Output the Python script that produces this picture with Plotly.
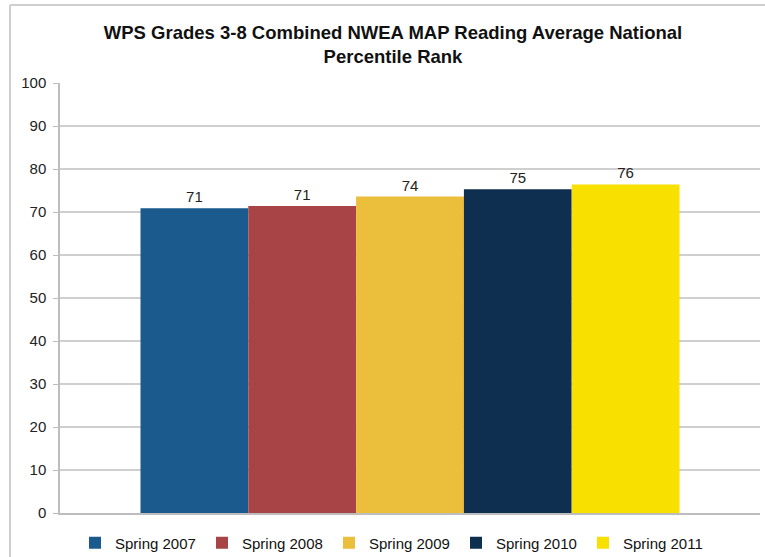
import plotly.graph_objects as go

series_names = ["Spring 2007", "Spring 2008", "Spring 2009", "Spring 2010", "Spring 2011"]
series_values = [70.9, 71.4, 73.6, 75.3, 76.4]
series_colors = ["#1B5A8D", "#A84446", "#EBBE3B", "#0E2F4F", "#F8E000"]
category = ["Reading"]
y_ticks = [0, 10, 20, 30, 40, 50, 60, 70, 80, 90, 100]

W, H = 765, 557
ml, mr, mt, mb = 60, 5, 83, 44
PW, PH = W - ml - mr, H - mt - mb

fig = go.Figure()
for name, val, col in zip(series_names, series_values, series_colors):
    fig.add_trace(go.Bar(
        x=category, y=[val], name=name,
        marker=dict(color=col, line=dict(width=0)),
        text=[f"{round(val):d}"], textposition="outside",
        textfont=dict(size=15, color="#222222"),
        cliponaxis=False,
    ))

fig.update_layout(
    width=W, height=H,
    margin=dict(l=ml, r=mr, t=mt, b=mb, pad=0, autoexpand=False),
    paper_bgcolor="white", plot_bgcolor="white",
    font=dict(family="Liberation Sans, Arial, sans-serif", color="#222222", size=14),
    title=dict(
        text="<b>WPS Grades 3-8 Combined NWEA MAP Reading Average National<br>Percentile Rank</b>",
        x=393 / W, xref="container", xanchor="center",
        y=1 - 39 / H, yref="container", yanchor="middle",
        font=dict(size=18.5, color="#111111"),
    ),
    barmode="group", bargap=0.23, bargroupgap=0,
    showlegend=True,
    legend=dict(
        orientation="h", x=(75 - ml) / PW, xanchor="left", xref="paper",
        y=-30 / PH, yanchor="middle",
        font=dict(size=15, color="#111111"),
        itemwidth=30, entrywidth=82, tracegroupgap=0,
        bgcolor="rgba(0,0,0,0)",
    ),
    xaxis=dict(showticklabels=False, showgrid=False, showline=True,
               linecolor="#BDBDBD", linewidth=1.5, ticks="", zeroline=False,
               automargin=False),
    yaxis=dict(range=[0, 100], tickvals=y_ticks, showgrid=True,
               gridcolor="#CFCFCF", gridwidth=1.5, showline=True,
               linecolor="#BDBDBD", linewidth=1.5, ticks="outside",
               ticklen=5, tickcolor="#BDBDBD", zeroline=False, automargin=False,
               tickfont=dict(size=15, color="#222222"), ticklabelstandoff=4),
    shapes=[
        dict(type="line", xref="paper", yref="paper",
             x0=(10 - ml) / PW, x1=(10 - ml) / PW,
             y0=(H - mb - 5) / PH, y1=-mb / PH,
             line=dict(color="#CFCFCF", width=2)),
        dict(type="line", xref="paper", yref="paper",
             x0=(10 - ml) / PW, x1=1 + mr / PW,
             y0=(H - mb - 5) / PH, y1=(H - mb - 5) / PH,
             line=dict(color="#CFCFCF", width=2)),
    ],
)

fig.write_html("out.html", config={"displayModeBar": False},
               post_script="document.body.style.margin='0';document.body.style.overflow='hidden';")
